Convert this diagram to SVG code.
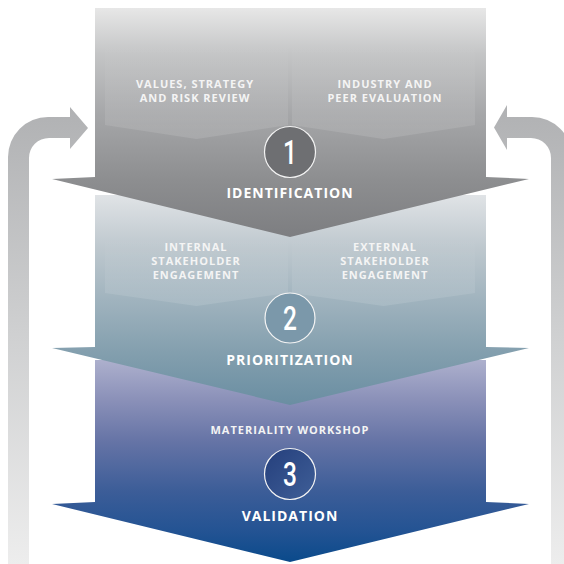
<svg xmlns="http://www.w3.org/2000/svg" width="564" height="564" viewBox="0 0 564 564">
<defs>
<linearGradient id="gArrow" gradientUnits="userSpaceOnUse" x1="0" y1="105" x2="0" y2="564">
<stop offset="0" stop-color="#b0b1b3"/><stop offset="0.5" stop-color="#cfd0d1"/><stop offset="1" stop-color="#ededed"/>
</linearGradient>
<linearGradient id="g1" gradientUnits="userSpaceOnUse" x1="0" y1="8" x2="0" y2="237">
<stop offset="0" stop-color="#e7e7e7"/><stop offset="0.2" stop-color="#c4c5c6"/><stop offset="0.45" stop-color="#a7a8aa"/><stop offset="0.75" stop-color="#8d8e90"/><stop offset="1" stop-color="#7d7e81"/>
</linearGradient>
<linearGradient id="g2" gradientUnits="userSpaceOnUse" x1="0" y1="195" x2="0" y2="405">
<stop offset="0" stop-color="#e0e3e6"/><stop offset="0.25" stop-color="#bec8ce"/><stop offset="0.5" stop-color="#a0b3be"/><stop offset="0.75" stop-color="#839fae"/><stop offset="1" stop-color="#6a8ea2"/>
</linearGradient>
<linearGradient id="g3" gradientUnits="userSpaceOnUse" x1="0" y1="360" x2="0" y2="562">
<stop offset="0" stop-color="#adb0cd"/><stop offset="0.2" stop-color="#8a90b8"/><stop offset="0.4" stop-color="#6674a6"/><stop offset="0.65" stop-color="#3c5d98"/><stop offset="0.85" stop-color="#235393"/><stop offset="1" stop-color="#0a4a8b"/>
</linearGradient>
<linearGradient id="gPent" x1="0" y1="0" x2="0" y2="1">
<stop offset="0" stop-color="#ffffff" stop-opacity="0"/><stop offset="1" stop-color="#ffffff" stop-opacity="0.12"/>
</linearGradient>
<linearGradient id="gC3" x1="0" y1="0" x2="1" y2="1">
<stop offset="0" stop-color="#253f7c"/><stop offset="1" stop-color="#3f5f98"/>
</linearGradient>
<style>
.lbl{font-family:"Open Sans","Liberation Sans",sans-serif;font-weight:bold;font-size:11px;letter-spacing:1px;fill:#f4f4f4;text-anchor:middle}
.ttl{font-family:"Open Sans","Liberation Sans",sans-serif;font-weight:bold;font-size:14px;letter-spacing:1px;fill:#ffffff;text-anchor:middle}
.num{font-family:Roboto,"Liberation Sans",sans-serif;font-weight:500;font-size:34px;fill:#ffffff;text-anchor:middle}
.ring{stroke:#f4f4f4;stroke-width:1.2}
.pent{fill:url(#gPent)}
</style>
</defs>
<rect width="564" height="564" fill="#ffffff"/>
<g id="connectors">
<path d="M8,564 V157 A40,40 0 0 1 48,117 H70 V107 L88,128 L70,149 V138 H49 A20,20 0 0 0 29,158 V564 Z" fill="url(#gArrow)"/>
<path d="M572,564 V157 A40,40 0 0 0 532,117 H507 V105 L494,127.5 L507,150 V138 H531 A20,20 0 0 1 551,158 V564 Z" fill="url(#gArrow)"/>
</g>
<g id="validation">
<path d="M95,360 H486 V502 L529,504 L290,562 L52,504 L95,502 Z" fill="url(#g3)"/>
<text class="lbl" x="290" y="434">MATERIALITY WORKSHOP</text>
<circle class="ring" cx="290" cy="474" r="25.5" fill="url(#gC3)"/>
<text class="num" transform="translate(290,486) scale(0.72,1)">3</text>
<text class="ttl" x="290" y="521">VALIDATION</text>
</g>
<g id="prioritization">
<path d="M95,195 H486 V347 L529,348 L290,405 L52,348 L95,347 Z" fill="url(#g2)"/>
<path class="pent" d="M105,236 H288 V293 L196.5,306 L105,293 Z"/>
<path class="pent" d="M292,236 H475 V293 L383.5,306 L292,293 Z"/>
<text class="lbl" x="196" y="251">INTERNAL<tspan x="196" dy="14">STAKEHOLDER</tspan><tspan x="196" dy="14">ENGAGEMENT</tspan></text>
<text class="lbl" x="385" y="251">EXTERNAL<tspan x="385" dy="14">STAKEHOLDER</tspan><tspan x="385" dy="14">ENGAGEMENT</tspan></text>
<circle class="ring" cx="290" cy="318" r="25" fill="#7b98aa"/>
<text class="num" transform="translate(290,330) scale(0.72,1)">2</text>
<text class="ttl" x="290" y="365">PRIORITIZATION</text>
</g>
<g id="identification">
<path d="M95,8 H486 V177 L529,179 L290,237 L52,179 L95,177 Z" fill="url(#g1)"/>
<path class="pent" d="M105,40 H288 V125 L196.5,139 L105,125 Z"/>
<path class="pent" d="M292,40 H475 V125 L383.5,139 L292,125 Z"/>
<text class="lbl" x="195" y="88">VALUES, STRATEGY<tspan x="195" dy="14">AND RISK REVIEW</tspan></text>
<text class="lbl" x="385" y="88">INDUSTRY AND<tspan x="385" dy="14">PEER EVALUATION</tspan></text>
<circle class="ring" cx="290" cy="152" r="25.5" fill="#6e6f72"/>
<text class="num" transform="translate(290,164) scale(0.72,1)">1</text>
<text class="ttl" x="290" y="198">IDENTIFICATION</text>
</g>
</svg>
